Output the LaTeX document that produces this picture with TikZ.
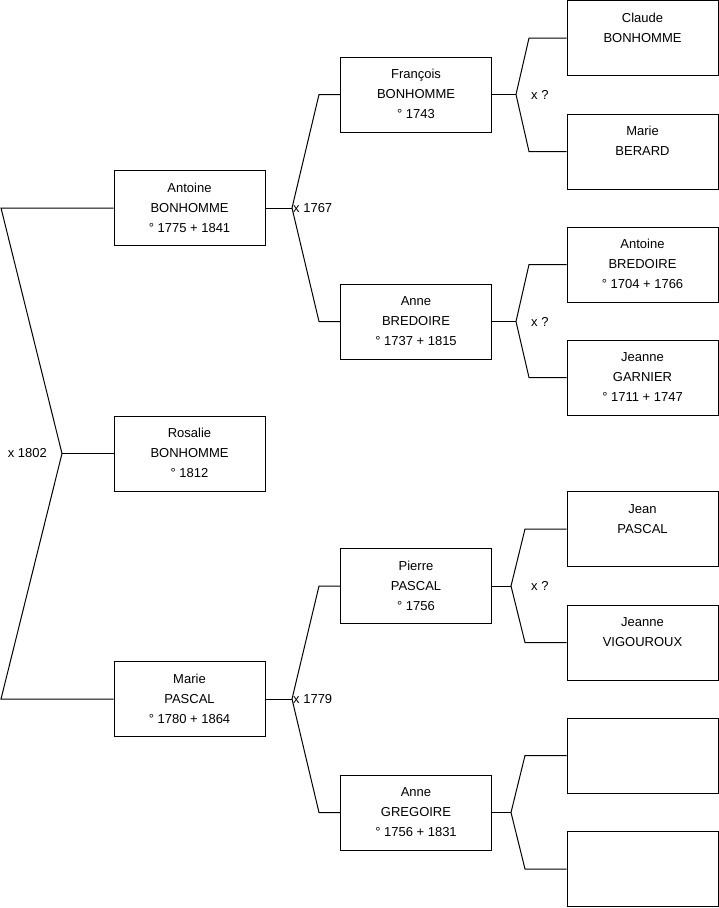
\documentclass[tikz,border=0pt]{standalone}
\usepackage{fontspec}
\setmainfont{Liberation Sans}
\begin{document}
\begin{tikzpicture}[x=1pt,y=-1pt,
  person/.style={draw, line width=1pt, minimum width=151pt, minimum height=75pt,
    inner sep=0pt, align=center, font=\fontsize{13}{20}\selectfont},
  conn/.style={draw, line width=1pt},
  lbl/.style={font=\fontsize{13}{16}\selectfont, inner sep=1pt}]
\useasboundingbox (0,0) rectangle (719,908);

% generation 1
\node[person] (a1) at (189.5,208)   {\strut Antoine\\\strut BONHOMME\\\strut ° 1775 + 1841};
\node[person] (a2) at (189.5,453.5) {\strut Rosalie\\\strut BONHOMME\\\strut ° 1812};
\node[person] (a3) at (189.5,699)   {\strut Marie\\\strut PASCAL\\\strut ° 1780 + 1864};

% generation 2
\node[person] (b1) at (416,94.5)  {\strut François\\\strut BONHOMME\\\strut ° 1743};
\node[person] (b2) at (416,321.5) {\strut Anne\\\strut BREDOIRE\\\strut ° 1737 + 1815};
\node[person] (b3) at (416,586)   {\strut Pierre\\\strut PASCAL\\\strut ° 1756};
\node[person] (b4) at (416,812.5) {\strut Anne\\\strut GREGOIRE\\\strut ° 1756 + 1831};

% generation 3
\node[person] (c1) at (642.5,38)    {\strut Claude\\\strut BONHOMME\\\strut};
\node[person] (c2) at (642.5,151.5) {\strut Marie\\\strut BERARD\\\strut};
\node[person] (c3) at (642.5,264.5) {\strut Antoine\\\strut BREDOIRE\\\strut ° 1704 + 1766};
\node[person] (c4) at (642.5,377.5) {\strut Jeanne\\\strut GARNIER\\\strut ° 1711 + 1747};
\node[person] (c5) at (642.5,529)   {\strut Jean\\\strut PASCAL\\\strut};
\node[person] (c6) at (642.5,642.5) {\strut Jeanne\\\strut VIGOUROUX\\\strut};
\node[person] (c7) at (642.5,755.5) {\strut\\\strut\\\strut};
\node[person] (c8) at (642.5,869)   {\strut\\\strut\\\strut};

% fork 0
\coordinate (f0) at (62,453.5);
\coordinate (f0t) at (1,208);
\coordinate (f0b) at (1,699);
\draw[conn] (a1.west) -- (f0t) -- (f0) -- (f0b) -- (a3.west);
\draw[conn] (f0) -- (a2.west);
\node[lbl, anchor=east] (m0) at (48,453.5) {x 1802};

% fork a1
\coordinate (f1) at (292,208);
\coordinate (f1t) at (319,94.5);
\coordinate (f1b) at (319,321.5);
\draw[conn] (a1.east) -- (f1);
\draw[conn] (b1.west) -- (f1t) -- (f1) -- (f1b) -- (b2.west);
\node[lbl, anchor=west] (m1) at (f1) {x 1767};

% fork a3
\coordinate (f3) at (292,699);
\coordinate (f3t) at (319,586);
\coordinate (f3b) at (319,812.5);
\draw[conn] (a3.east) -- (f3);
\draw[conn] (b3.west) -- (f3t) -- (f3) -- (f3b) -- (b4.west);
\node[lbl, anchor=west] (m3) at (f3) {x 1779};

% fork b1
\coordinate (g1) at (516,94.5);
\coordinate (g1t) at (529,38);
\coordinate (g1b) at (529,151.5);
\draw[conn] (b1.east) -- (g1);
\draw[conn] (c1.west) -- (g1t) -- (g1) -- (g1b) -- (c2.west);
\node[lbl, anchor=west] (n1) at (530,94.5) {x ?};

% fork b2
\coordinate (g2) at (516,321.5);
\coordinate (g2t) at (529,264.5);
\coordinate (g2b) at (529,377.5);
\draw[conn] (b2.east) -- (g2);
\draw[conn] (c3.west) -- (g2t) -- (g2) -- (g2b) -- (c4.west);
\node[lbl, anchor=west] (n2) at (530,321.5) {x ?};

% fork b3
\coordinate (g3) at (511,586);
\coordinate (g3t) at (525,529);
\coordinate (g3b) at (525,642.5);
\draw[conn] (b3.east) -- (g3);
\draw[conn] (c5.west) -- (g3t) -- (g3) -- (g3b) -- (c6.west);
\node[lbl, anchor=west] (n3) at (530,586) {x ?};

% fork b4
\coordinate (g4) at (511,812.5);
\coordinate (g4t) at (525,755.5);
\coordinate (g4b) at (525,869);
\draw[conn] (b4.east) -- (g4);
\draw[conn] (c7.west) -- (g4t) -- (g4) -- (g4b) -- (c8.west);
\end{tikzpicture}
\end{document}
